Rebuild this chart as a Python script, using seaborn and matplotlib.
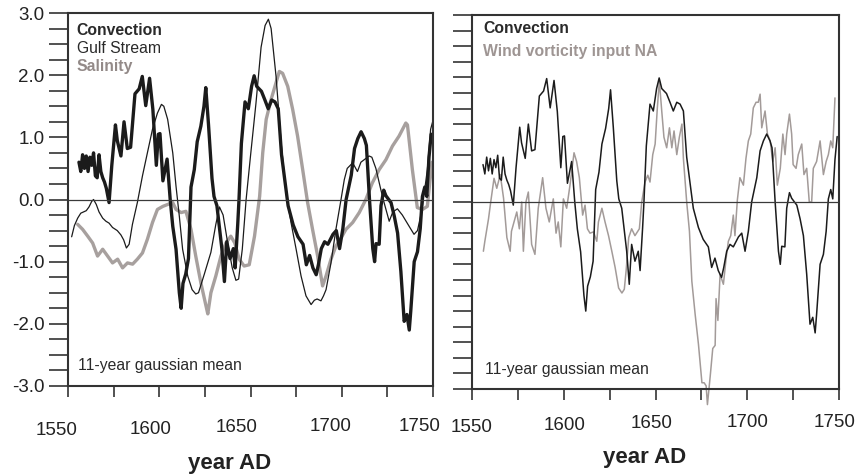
import numpy as np
import pandas as pd
import matplotlib
matplotlib.use("Agg")
import matplotlib.pyplot as plt
import seaborn as sns
from matplotlib.ticker import MultipleLocator, FuncFormatter
from matplotlib.transforms import ScaledTranslation

sns.set_style("ticks")
plt.rcParams['font.family'] = ['Liberation Sans', 'DejaVu Sans']

# ---------------- data ----------------
conv_years = [1556, 1557, 1558, 1559, 1560, 1561, 1562, 1563, 1564, 1565, 1566, 1567, 1568, 1569,
              1570, 1571, 1572.5, 1574, 1576, 1577, 1579, 1580.7, 1582.5, 1584.3, 1586.7, 1589,
              1590.7, 1592.6, 1594.7, 1596.5, 1598.4, 1599.5, 1600.4, 1602, 1604.3, 1606, 1607.4,
              1609.2, 1611, 1612, 1613, 1614.5, 1616, 1617.4, 1619.2, 1620.8, 1622.8, 1624.5,
              1625.5, 1627, 1628.9, 1630, 1631.6, 1634.3, 1635.7, 1637, 1638.8, 1640.6, 1641.6,
              1643, 1643.7, 1645, 1647, 1648.8, 1650.6, 1652, 1653.4, 1656, 1657.9, 1659.7,
              1661.6, 1663.4, 1665.2, 1667, 1668.8, 1670.6, 1673.4, 1676, 1678.8, 1680.6, 1682.4,
              1684.2, 1686, 1687.2, 1688.8, 1690.6, 1692.4, 1695.2, 1697, 1698.8, 1700.6, 1702.4,
              1705.2, 1707, 1708.8, 1710.6, 1712.4, 1713.5, 1715.2, 1717, 1718, 1718.8, 1720.5,
              1721.5, 1723, 1724.2, 1727, 1728.8, 1730.6, 1732.4, 1734.2, 1735.7, 1737, 1737.8,
              1739.7, 1741.5, 1743, 1744.2, 1745.5, 1746.6, 1747.8, 1749]
conv_vals = [0.6, 0.45, 0.72, 0.5, 0.7, 0.45, 0.68, 0.55, 0.75, 0.38, 0.35, 0.72, 0.45, 0.35,
             0.28, 0.18, -0.05, 0.55, 1.2, 0.95, 0.7, 1.25, 0.82, 0.84, 1.7, 1.78,
             1.98, 1.51, 1.95, 1.45, 0.55, 1.05, 1.06, 0.3, 0.65, 0.0, -0.43,
             -0.8, -1.5, -1.75, -1.35, -1.2, -0.95, 0.2, 0.48, 0.93, 1.18, 1.5,
             1.8, 1.2, 0.34, 0.05, -0.1, -0.79, -1.32, -0.68, -0.95, -0.79, -1.1,
             -0.4, 0.0, 0.9, 1.57, 1.46, 1.82, 1.99, 1.82, 1.74, 1.6, 1.46,
             1.6, 1.57, 1.46, 0.72, 0.31, -0.1, -0.41, -0.6, -0.72, -1.05, -0.9,
             -1.1, -1.21, -1.05, -0.79, -0.68, -0.72, -0.56, -0.5, -0.79, -0.47, 0.0,
             0.39, 0.82, 0.98, 1.09, 0.98, 0.87, 0.0, -0.79, -1.0, -0.71, -0.72,
             -0.1, 0.15, 0.06, -0.05, -0.27, -0.54, -1.16, -1.96, -1.85, -2.1, -1.8,
             -1.0, -0.84, -0.47, 0.05, 0.2, 0.05, 0.68, 1.05]

gulf_years = [1552, 1553.5, 1555.3, 1557, 1558.5, 1560, 1561.5, 1563, 1564, 1565.5, 1567, 1569,
              1570.8, 1572.5, 1574.4, 1577, 1579, 1580.5, 1582, 1583.5, 1585.3, 1588, 1590.8,
              1593.5, 1596.3, 1599, 1601.2, 1602.5, 1604.6, 1607.4, 1609.2, 1611, 1612.8,
              1615.6, 1618, 1620, 1621.5, 1624.7, 1628.3, 1631, 1633, 1635, 1637.5, 1640, 1642,
              1643.5, 1645.5, 1647.6, 1650, 1653, 1655.8, 1658, 1659.8, 1661.3, 1664, 1666.8,
              1669.5, 1672.2, 1675, 1677.7, 1680.4, 1683.2, 1685, 1686.5, 1688.6, 1690, 1691.4,
              1694.1, 1696.8, 1699.6, 1701.4, 1703, 1706, 1708.6, 1710.5, 1712.3, 1715, 1716.5,
              1718.7, 1721.4, 1723.2, 1726, 1728, 1730.5, 1733.2, 1736.9, 1739.6, 1741.5, 1744,
              1746.9, 1748.7, 1749.8]
gulf_vals = [-0.6, -0.42, -0.3, -0.22, -0.2, -0.18, -0.12, -0.03, 0.0, -0.08, -0.2, -0.3,
             -0.35, -0.38, -0.45, -0.5, -0.57, -0.65, -0.78, -0.72, -0.4, -0.05, 0.38,
             0.75, 1.13, 1.39, 1.53, 1.5, 1.29, 0.75, 0.21, -0.27, -0.8,
             -1.23, -1.45, -1.52, -1.5, -1.2, -0.85, -0.4, -0.12, -0.25, -0.7, -1.1, -1.3,
             -1.28, -0.8, 0.0, 0.7, 1.55, 2.45, 2.8, 2.9, 2.75, 1.98, 0.91,
             0.11, -0.37, -0.8, -1.23, -1.55, -1.69, -1.62, -1.6, -1.63, -1.55, -1.45,
             -1.02, -0.48, 0.0, 0.32, 0.5, 0.59, 0.45, 0.6, 0.64, 0.7, 0.68,
             0.5, 0.16, -0.05, -0.35, -0.2, -0.15, -0.25, -0.43, -0.56, -0.5, -0.16,
             0.48, 1.13, 1.25]

sal_years = [1555.3, 1558, 1560.8, 1563.5, 1566.2, 1569, 1571.7, 1574.4, 1577.2, 1579.9, 1582.6,
             1585.4, 1588, 1590.8, 1593.5, 1596.3, 1599, 1602, 1604.6, 1607.4, 1609.2, 1612,
             1614.6, 1617.4, 1620, 1622.8, 1625.6, 1626.6, 1628.3, 1631, 1633.8, 1636.5, 1639.2,
             1641.4, 1643.8, 1646.5, 1649.3, 1652.2, 1655, 1656.7, 1658.6, 1661.3, 1664, 1665.8,
             1667.6, 1670.4, 1673.1, 1675.8, 1678.6, 1681.3, 1684, 1686.8, 1689.5, 1691.4,
             1694.1, 1696.8, 1699.6, 1702.3, 1706, 1709.6, 1713.2, 1716.8, 1720.5, 1724.2,
             1727.8, 1731.4, 1735.1, 1736, 1738.7, 1741.4, 1744.2, 1746.9, 1748.2, 1749.5]
sal_vals = [-0.4, -0.48, -0.59, -0.7, -0.91, -0.8, -0.91, -1.02, -0.96, -1.1, -1.02,
            -1.04, -0.96, -0.86, -0.64, -0.37, -0.16, -0.11, -0.08, -0.05, -0.16, -0.21,
            -0.19, -0.48, -0.91, -1.34, -1.71, -1.84, -1.5, -1.23, -0.91, -0.7, -0.59,
            -0.7, -0.96, -1.07, -1.05, -0.59, 0.05, 0.75, 1.29, 1.61, 1.88, 2.06,
            2.03, 1.82, 1.45, 1.02, 0.48, -0.05, -0.48, -0.91, -1.39, -1.23,
            -0.96, -0.75, -0.62, -0.48, -0.37, -0.21, 0.0, 0.27, 0.48, 0.64,
            0.86, 1.02, 1.23, 1.2, 0.48, -0.13, -0.16, -0.11, 0.27, 0.6]

wind_years = [1556.2, 1557, 1559, 1560.2, 1562, 1563.5, 1565.4, 1567.2, 1569, 1570.8, 1571.5,
              1572.9, 1574.4, 1575.8, 1577.1, 1578, 1579.4, 1580.7, 1582.5, 1584.3, 1586.1,
              1588.5, 1590.3, 1592.1, 1594.3, 1595.8, 1597, 1598.4, 1599.8, 1601.6, 1603.4,
              1605.6, 1607, 1608.5, 1610.3, 1611.6, 1612.9, 1614.3, 1616.2, 1618, 1618.9,
              1620.8, 1622.5, 1624.4, 1626.2, 1628, 1629.9, 1631.7, 1633, 1634, 1635.4, 1637,
              1638.8, 1641.2, 1642.5, 1644.3, 1645.8, 1647, 1648.5, 1649.8, 1651, 1652.1,
              1653.4, 1654.6, 1656.1, 1657.6, 1658.9, 1660.1, 1661.6, 1663, 1664.4, 1665.2,
              1667, 1668.5, 1669.8, 1671.6, 1673.4, 1675.3, 1676.5, 1677.6, 1678.3, 1679.8,
              1681.2, 1682.5, 1683, 1684, 1685.2, 1687, 1688.5, 1689.7, 1691, 1692.4, 1693.3,
              1694.6, 1696, 1697.9, 1699.3, 1700.6, 1701.9, 1703.3, 1704.8, 1706, 1707,
              1707.9, 1709.7, 1711, 1712.5, 1713.9, 1715.2, 1716.4, 1718, 1719.4, 1720.6,
              1721.5, 1723, 1724.2, 1725, 1726.6, 1727.8, 1729.7, 1730.9, 1732.4, 1733.8,
              1735.1, 1736, 1737.8, 1739.7, 1741.5, 1743, 1744.2, 1745.5, 1746.6, 1747.8]
wind_vals = [-0.79, -0.63, -0.27, 0.0, 0.38, 0.22, 0.44, 0.06, -0.57, -0.79, -0.47,
             -0.32, -0.16, -0.43, 0.0, -0.79, 0.0, 0.16, -0.68, -0.84, -0.1,
             0.39, -0.1, -0.32, 0.05, -0.5, -0.32, -0.72, 0.05, -0.1, 0.27,
             0.79, 0.65, 0.39, -0.21, -0.05, -0.43, -0.5, -0.48, -0.63, -0.32,
             -0.1, -0.32, -0.54, -0.79, -1.05, -1.38, -1.46, -1.4, -1.1, -0.57, -0.43,
             -0.54, -0.43, 0.0, 0.32, 0.43, 0.32, 0.76, 0.93, 1.51, 1.94,
             1.46, 1.04, 0.87, 1.19, 0.87, 1.14, 0.76, 1.04, 1.25, 0.7,
             0.0, -0.47, -1.27, -1.8, -2.28, -2.9, -2.9, -2.95, -3.25, -2.8,
             -2.35, -2.3, -1.55, -1.9, -1.16, -1.32, -0.9, -0.63, -0.54, -0.21, -0.54,
             0.03, 0.39, 0.27, 0.7, 0.98, 1.09, 1.51, 1.6, 1.6, 1.73,
             1.19, 1.46, 1.09, 0.98, 0.65, 0.87, 0.27, 0.54, 1.09, 0.76,
             1.09, 1.41, 1.09, 0.6, 0.54, 0.76, 0.93, 0.44, 0.54, 0.0,
             0.0, 0.54, 0.65, 0.98, 0.44, 0.65, 0.76, 0.98, 0.87, 1.67]

x_labeled = [1550, 1600, 1650, 1700, 1750]
y_labeled = [3.0, 2.0, 1.0, 0.0, -1.0, -2.0, -3.0]

conv = pd.DataFrame({"year": conv_years, "value": conv_vals})
gulf = pd.DataFrame({"year": gulf_years, "value": gulf_vals})
sal = pd.DataFrame({"year": sal_years, "value": sal_vals})
wind = pd.DataFrame({"year": wind_years, "value": wind_vals})

# ---------------- figure ----------------
W, H = 856, 476
fig = plt.figure(figsize=(W / 100, H / 100), dpi=100)
axL = fig.add_axes([68 / W, (H - 386) / H, (433 - 68) / W, (386 - 13) / H])
axR = fig.add_axes([472 / W, (H - 389) / H, (839 - 472) / W, (389 - 15) / H])

BLACK = "#1b1b1b"
GRAY = "#a7a09e"
SPINE = "#333333"

# left panel
sns.lineplot(data=sal, x="year", y="value", ax=axL, color=GRAY, lw=2.4, estimator=None, sort=False)
sns.lineplot(data=gulf, x="year", y="value", ax=axL, color=BLACK, lw=0.9, estimator=None, sort=False)
sns.lineplot(data=conv, x="year", y="value", ax=axL, color=BLACK, lw=2.4, estimator=None, sort=False)

# right panel
sns.lineplot(data=wind, x="year", y="value", ax=axR, color="#a39b99", lw=1.1, estimator=None,
             sort=False, clip_on=False)
sns.lineplot(data=conv, x="year", y="value", ax=axR, color=BLACK, lw=1.1, estimator=None, sort=False)

for ax in (axL, axR):
    ax.axhline(0, color="#3a3a3a", lw=0.9, zorder=5)
    ax.set_xlim(1550, 1750)
    ax.set_ylim(-3, 3)
    ax.set_xlabel("")
    ax.set_ylabel("")
    ax.xaxis.set_major_locator(MultipleLocator(25))
    ax.yaxis.set_major_locator(MultipleLocator(0.25))
    ax.xaxis.set_major_formatter(FuncFormatter(
        lambda v, p: f"{int(round(v))}" if int(round(v)) in x_labeled else ""))
    for s in ax.spines.values():
        s.set_visible(True)
        s.set_color(SPINE)
        s.set_linewidth(1.5)
    ax.tick_params(axis="y", direction="out", length=14, width=1.2, color=SPINE,
                   labelsize=13.5, pad=3, labelcolor="#222222")
    ax.tick_params(axis="x", direction="out", length=8, width=1.2, color=SPINE,
                   labelsize=13.5, labelcolor="#222222")
    ax.grid(False)

axL.yaxis.set_major_formatter(FuncFormatter(
    lambda v, p: f"{v:.1f}" if any(abs(v - t) < 1e-6 for t in y_labeled) else ""))
axR.yaxis.set_major_formatter(FuncFormatter(lambda v, p: ""))
axL.tick_params(axis="x", pad=15)
axR.tick_params(axis="x", pad=10)

# texts
axL.text(0.024, 0.954, "Convection", transform=axL.transAxes, fontsize=11.3, fontweight="bold",
         color="#2a2a2a", va="center")
axL.text(0.024, 0.905, "Gulf Stream", transform=axL.transAxes, fontsize=11.3, color="#2a2a2a",
         va="center")
axL.text(0.024, 0.856, "Salinity", transform=axL.transAxes, fontsize=11.3, fontweight="bold",
         color="#938a88", va="center")
axL.text(0.028, 0.056, "11-year gaussian mean", transform=axL.transAxes, fontsize=11.3,
         color="#2a2a2a", va="center")

axR.text(0.030, 0.964, "Convection", transform=axR.transAxes, fontsize=11.3, fontweight="bold",
         color="#2a2a2a", va="center")
axR.text(0.030, 0.902, "Wind vorticity input NA", transform=axR.transAxes, fontsize=11.3,
         fontweight="bold", color="#9e9593", va="center")
axR.text(0.035, 0.051, "11-year gaussian mean", transform=axR.transAxes, fontsize=11.3,
         color="#2a2a2a", va="center")

fig.text(230 / W, (H - 463) / H, "year AD", fontsize=16, fontweight="bold", color="#222222",
         ha="center", va="center")
fig.text(645 / W, (H - 458) / H, "year AD", fontsize=16, fontweight="bold", color="#222222",
         ha="center", va="center")

# slight individual offsets of tick labels (in pixels), as in the original
offL = {1550: (-11, -4), 1600: (-9, -3), 1650: (-14, -1), 1700: (-11, 0), 1750: (-13, 0)}
offR = {1550: (0, -5), 1600: (1, -3.3), 1650: (-4, -1.3), 1700: (0, 0), 1750: (-4, 0)}
fig.canvas.draw()
for ax, off in ((axL, offL), (axR, offR)):
    for tick in ax.xaxis.get_major_ticks():
        v = int(round(tick.get_loc()))
        if v in off:
            dx, dy = off[v]
            lab = tick.label1
            lab.set_transform(lab.get_transform() + ScaledTranslation(dx / 100, dy / 100,
                                                                      fig.dpi_scale_trans))

fig.savefig("out.png", dpi=100)
